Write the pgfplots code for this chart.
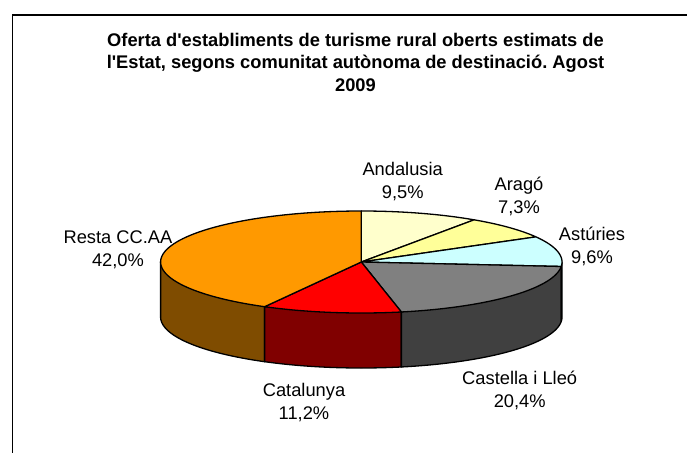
\documentclass[border=0pt]{standalone}
\usepackage{fontspec}
\setmainfont{Liberation Sans}
\usepackage{pgfplots}
\usepackage{pgfplotstable}
\pgfplotsset{compat=1.18}
\frenchspacing

\definecolor{cAnd}{HTML}{FFFFCC}
\definecolor{cAra}{HTML}{FFFF99}
\definecolor{cAst}{HTML}{CCFFFF}
\definecolor{cAstS}{HTML}{669999}
\definecolor{cCyL}{HTML}{808080}
\definecolor{cCyLS}{HTML}{404040}
\definecolor{cCat}{HTML}{FF0000}
\definecolor{cCatS}{HTML}{800000}
\definecolor{cRes}{HTML}{FF9900}
\definecolor{cResS}{HTML}{7F4C00}

\pgfplotstableread[col sep=comma]{
region,pct
Andalusia,9.5
Aragó,7.3
Astúries,9.6
Castella i Lleó,20.4
Catalunya,11.2
Resta CC.AA,42.0
}\piedata

% pie geometry (pixel units)
\def\cx{361.3}\def\cy{262}\def\ra{200.7}\def\rb{51}\def\dep{55}

\pgfplotstablegetelem{0}{pct}\of\piedata\pgfmathsetmacro\pA{\pgfplotsretval}
\pgfplotstablegetelem{1}{pct}\of\piedata\pgfmathsetmacro\pB{\pgfplotsretval}
\pgfplotstablegetelem{2}{pct}\of\piedata\pgfmathsetmacro\pC{\pgfplotsretval}
\pgfplotstablegetelem{3}{pct}\of\piedata\pgfmathsetmacro\pD{\pgfplotsretval}
\pgfplotstablegetelem{4}{pct}\of\piedata\pgfmathsetmacro\pE{\pgfplotsretval}
\pgfplotstablegetelem{5}{pct}\of\piedata\pgfmathsetmacro\pF{\pgfplotsretval}

\pgfmathsetmacro\tA{90}
\pgfmathsetmacro\tB{\tA-3.6*\pA}
\pgfmathsetmacro\tC{\tB-3.6*\pB}
\pgfmathsetmacro\tD{\tC-3.6*\pC}
\pgfmathsetmacro\tE{\tD-3.6*\pD}
\pgfmathsetmacro\tF{\tE-3.6*\pE}
\pgfmathsetmacro\tG{\tF-3.6*\pF}

\pgfmathsetmacro\xD{\cx+\ra*cos(\tD)}\pgfmathsetmacro\yD{\cy-\rb*sin(\tD)}
\pgfmathsetmacro\xE{\cx+\ra*cos(\tE)}\pgfmathsetmacro\yE{\cy-\rb*sin(\tE)}
\pgfmathsetmacro\xF{\cx+\ra*cos(\tF)}\pgfmathsetmacro\yF{\cy-\rb*sin(\tF)}
\pgfmathsetmacro\xR{\cx+\ra}\pgfmathsetmacro\xL{\cx-\ra}

\newcommand\lab[4]{%
  \node[anchor=base,inner sep=0pt] at (axis cs:#1,#2) {#3};
  \node[anchor=base,inner sep=0pt] at (axis cs:#1,#2+23.5) {#4};}

\begin{document}
\begin{tikzpicture}
\useasboundingbox (0,0) rectangle (687bp,453bp);
\begin{axis}[at={(0,0)},anchor=south west,scale only axis,
  width=687bp,height=453bp,xmin=0,xmax=687,ymin=0,ymax=453,
  y dir=reverse,hide axis,clip=false,
  every axis plot/.append style={line width=1.3bp,line join=round,draw=black,no markers},
  font=\fontsize{18.3bp}{22bp}\selectfont]
% frame
\draw[line width=1.3bp] (axis cs:12.5,453) -- (axis cs:12.5,15) -- (axis cs:687,15);
% side walls (front half)
\addplot[fill=cResS,domain=-180:\tF,samples=60] ({\cx+\ra*cos(x)},{\cy+\dep-\rb*sin(x)}) -- (axis cs:\xF,\yF) -- (axis cs:\xL,\cy) -- cycle;
\addplot[fill=cCatS,domain=\tF:\tE,samples=40] ({\cx+\ra*cos(x)},{\cy+\dep-\rb*sin(x)}) -- (axis cs:\xE,\yE) -- (axis cs:\xF,\yF) -- cycle;
\addplot[fill=cCyLS,domain=\tE:\tD,samples=60] ({\cx+\ra*cos(x)},{\cy+\dep-\rb*sin(x)}) -- (axis cs:\xD,\yD) -- (axis cs:\xE,\yE) -- cycle;
\addplot[fill=cAstS,domain=\tD:0,samples=10] ({\cx+\ra*cos(x)},{\cy+\dep-\rb*sin(x)}) -- (axis cs:\xR,\cy) -- (axis cs:\xD,\yD) -- cycle;
% top faces
\addplot[fill=cAnd,domain=\tB:\tA,samples=40] ({\cx+\ra*cos(x)},{\cy-\rb*sin(x)}) -- (axis cs:\cx,\cy) -- cycle;
\addplot[fill=cAra,domain=\tC:\tB,samples=40] ({\cx+\ra*cos(x)},{\cy-\rb*sin(x)}) -- (axis cs:\cx,\cy) -- cycle;
\addplot[fill=cAst,domain=\tD:\tC,samples=40] ({\cx+\ra*cos(x)},{\cy-\rb*sin(x)}) -- (axis cs:\cx,\cy) -- cycle;
\addplot[fill=cCyL,domain=\tE:\tD,samples=60] ({\cx+\ra*cos(x)},{\cy-\rb*sin(x)}) -- (axis cs:\cx,\cy) -- cycle;
\addplot[fill=cCat,domain=\tF:\tE,samples=40] ({\cx+\ra*cos(x)},{\cy-\rb*sin(x)}) -- (axis cs:\cx,\cy) -- cycle;
\addplot[fill=cRes,domain=\tG:\tF,samples=100] ({\cx+\ra*cos(x)},{\cy-\rb*sin(x)}) -- (axis cs:\cx,\cy) -- cycle;
% title
\node[anchor=base,inner sep=0pt,font=\fontsize{18.3bp}{22bp}\selectfont\bfseries] at (axis cs:355.5,46.5) {Oferta d\textquotesingle establiments de turisme rural oberts estimats de};
\node[anchor=base,inner sep=0pt,font=\fontsize{18.3bp}{22bp}\selectfont\bfseries] at (axis cs:355.5,69) {l\textquotesingle Estat, segons comunitat autònoma de destinació. Agost};
\node[anchor=base,inner sep=0pt,font=\fontsize{18.3bp}{22bp}\selectfont\bfseries] at (axis cs:355.5,91.5) {2009};
% labels
\lab{402.7}{175}{Andalusia}{9,5\%}
\lab{519}{190}{Aragó}{7,3\%}
\lab{592}{240}{Astúries}{9,6\%}
\lab{519.7}{384}{Castella i Lleó}{20,4\%}
\lab{304}{396}{Catalunya}{11,2\%}
\lab{118}{243.3}{Resta CC.AA}{42,0\%}
\end{axis}
\end{tikzpicture}
\end{document}
